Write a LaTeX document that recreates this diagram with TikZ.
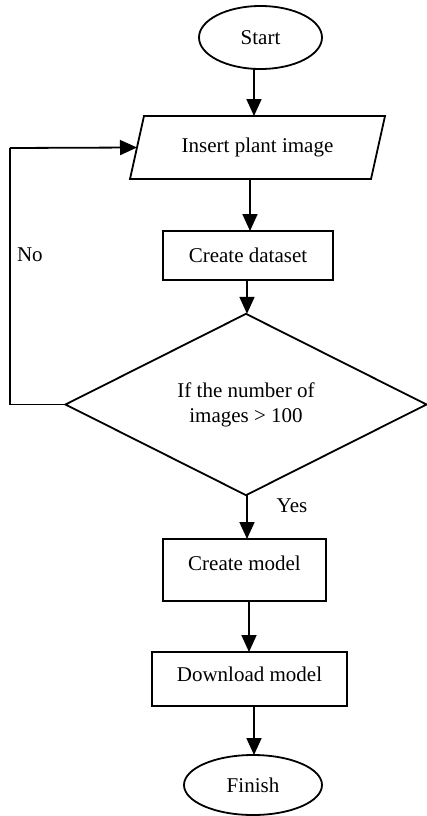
\documentclass[tikz,border=0pt]{standalone}
\usepackage{fontspec}
\setmainfont{Liberation Serif}
\usetikzlibrary{shapes.geometric,arrows.meta}
\begin{document}
\begin{tikzpicture}[x=1pt,y=-1pt,
  every node/.style={font=\fontsize{21}{25}\selectfont, inner sep=0pt, outer sep=0pt},
  box/.style={draw, line width=1.8pt, rectangle},
  oval/.style={draw, line width=1.8pt, ellipse},
  dec/.style={draw, line width=1.8pt, diamond, align=center},
  arr/.style={line width=1.8pt, -{Triangle[length=17pt,width=15pt]}},
  thin/.style={line width=1.1pt}]
\useasboundingbox (0,0) rectangle (427,816);
\node[oval, minimum width=123, minimum height=63] (start) at (260.5,37.5) {Start};
\node[minimum width=241, minimum height=63] (insert) at (257.5,147.5) {Insert plant image};
\draw[line width=1.8pt, line join=miter]
  ([xshift=7pt]insert.north west) -- ([xshift=7pt]insert.north east)
  -- ([xshift=-7pt]insert.south east) -- ([xshift=-7pt]insert.south west) -- cycle;
\node[box, minimum width=170, minimum height=49] (dataset) at (248,255.5) {Create dataset};
\node[dec, minimum width=361, minimum height=157] (decision) at (246,404.5) {If the number of\\images \textgreater{} 100};
\node[box, minimum width=163, minimum height=62, text depth=14pt] (cmodel) at (244.5,570) {Create model};
\node[box, minimum width=195, minimum height=54, text depth=10pt] (dmodel) at (249.5,679) {Download model};
\node[oval, minimum width=138, minimum height=60] (finish) at (253,785) {Finish};
\node[anchor=west] (no) at (17,255) {No};
\node (yes) at (292,506) {Yes};
\coordinate (loop) at (10,148);
\draw[arr] (start.south -| 254,0) -- (insert.north -| 254,0);
\draw[arr] (insert.south -| 250,0) -- (dataset.north -| 250,0);
\draw[arr] (dataset.south -| 247,0) -- (decision.north -| 247,0);
\draw[arr] (decision.south -| 247,0) -- (cmodel.north -| 247,0);
\draw[arr] (cmodel.south -| 249,0) -- (dmodel.north -| 249,0);
\draw[arr] (dmodel.south -| 254,0) -- (finish.north -| 254,0);
\draw[thin] (decision.west) -| (loop);
\draw[arr] (loop) -- (insert.west);
\end{tikzpicture}
\end{document}
